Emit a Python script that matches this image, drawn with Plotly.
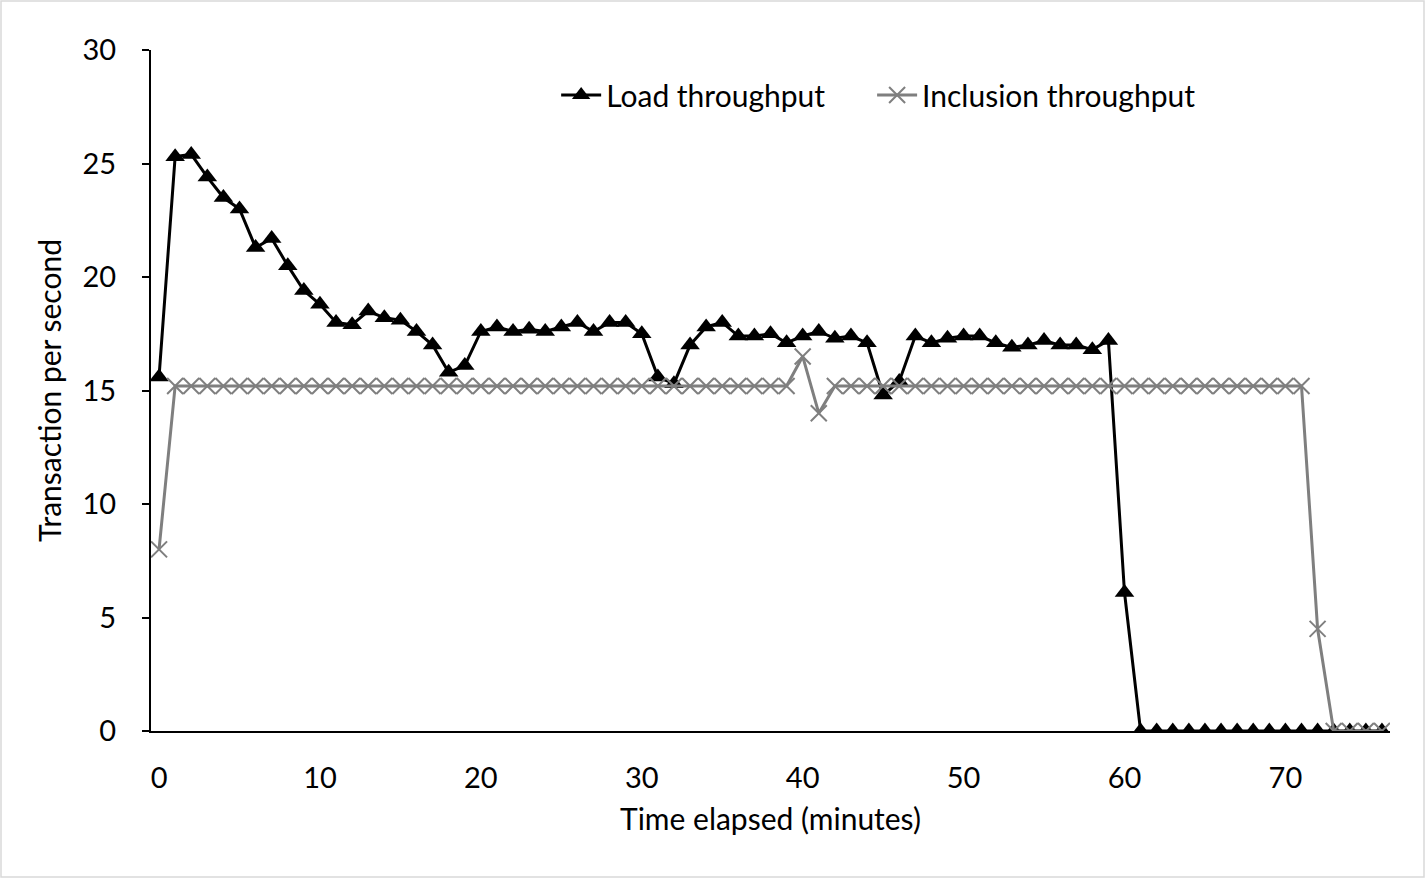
import plotly.graph_objects as go

minutes = list(range(0, 77))

load_throughput = [
    15.6, 25.3, 25.4, 24.4, 23.5, 23.0, 21.3, 21.7, 20.5, 19.4,
    18.8, 18.0, 17.9, 18.5, 18.2, 18.1, 17.6, 17.0, 15.8, 16.1,
    17.6, 17.8, 17.6, 17.7, 17.6, 17.8, 18.0, 17.6, 18.0, 18.0,
    17.5, 15.6, 15.3, 17.0, 17.8, 18.0, 17.4, 17.4, 17.5, 17.1,
    17.4, 17.6, 17.3, 17.4, 17.1, 14.8, 15.4, 17.4, 17.1, 17.3,
    17.4, 17.4, 17.1, 16.9, 17.0, 17.2, 17.0, 17.0, 16.8, 17.2,
    6.1, 0, 0, 0, 0, 0, 0, 0, 0, 0,
    0, 0, 0, 0, 0, 0, 0,
]

inclusion_throughput = (
    [8.0]
    + [15.2] * 39
    + [16.5, 14.0]
    + [15.2] * 30
    + [4.5, 0, 0, 0, 0]
)

x_ticks = [0, 10, 20, 30, 40, 50, 60, 70]

FONT = "Lato"

fig = go.Figure()
fig.add_trace(go.Scatter(
    x=minutes, y=load_throughput, name="Load throughput",
    mode="lines+markers",
    line=dict(color="black", width=3),
    marker=dict(symbol="triangle-up", size=17, color="black"),
    legend="legend",
))
fig.add_trace(go.Scatter(
    x=minutes, y=inclusion_throughput, name="Inclusion throughput",
    mode="lines+markers",
    line=dict(color="#7f7f7f", width=3),
    marker=dict(symbol="x-thin-open", size=16, color="#7f7f7f",
                line=dict(color="#7f7f7f", width=2)),
    legend="legend2",
))

legend_common = dict(
    orientation="h", y=0.934, xanchor="left", yanchor="middle",
    font=dict(family=FONT, size=30, color="black"),
    bgcolor="rgba(0,0,0,0)", itemwidth=40,
)

fig.update_layout(
    width=1425, height=878,
    margin=dict(l=151, r=35, t=50, b=147),
    paper_bgcolor="white", plot_bgcolor="white",
    font=dict(family=FONT, size=26, color="black"),
    showlegend=True,
    legend=dict(x=0.327, **legend_common),
    legend2=dict(x=0.582, **legend_common),
    xaxis=dict(
        range=[-0.5, 76.5], tickmode="array", tickvals=x_ticks,
        showgrid=False, zeroline=False, showline=True,
        linecolor="black", linewidth=2, ticks="",
        ticklabelstandoff=20,
        tickfont=dict(family=FONT, size=29),
        title=dict(text="Time elapsed (minutes)", font=dict(family=FONT, size=30), standoff=16),
    ),
    yaxis=dict(
        range=[0, 30], dtick=5,
        showgrid=False, zeroline=False, showline=True,
        linecolor="black", linewidth=2, ticks="outside", ticklen=7,
        tickcolor="black", tickwidth=2,
        ticklabelstandoff=20,
        tickfont=dict(family=FONT, size=29),
        title=dict(text="Transaction per second", font=dict(family=FONT, size=30), standoff=12),
    ),
    shapes=[dict(
        type="rect", xref="paper", yref="paper",
        x0=-150 / 1239, x1=(1425 - 151 - 1) / 1239,
        y0=-146 / 681, y1=(731 - 1) / 681,
        line=dict(color="#d9d9d9", width=1.5), layer="below",
    )],
)

fig.write_html("out.html")
